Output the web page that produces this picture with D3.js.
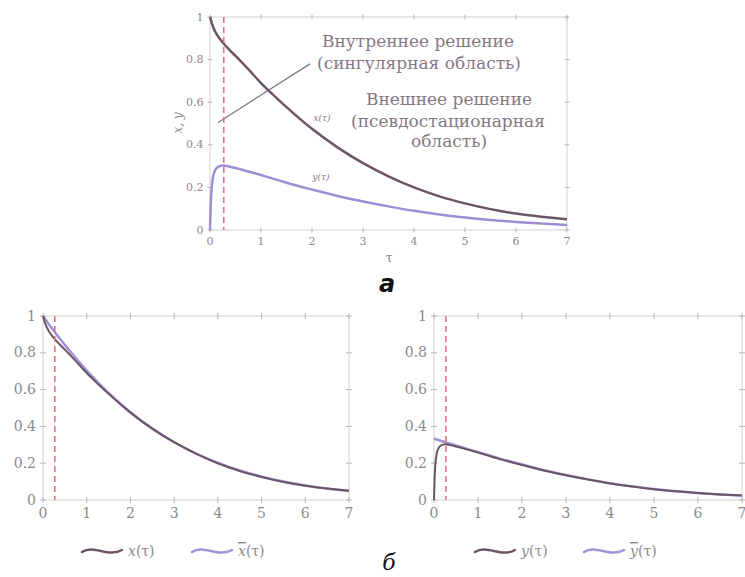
<!DOCTYPE html>
<html><head><meta charset="utf-8">
<script src="https://cdn.jsdelivr.net/npm/d3@7"></script>
<style>body{margin:0;background:#fff}svg{display:block}
svg text{font-family:"DejaVu Serif","Noto Serif",serif}
svg text.lab{font-family:"DejaVu Sans",sans-serif}
</style>
</head><body>
<svg id="c" width="745" height="577"></svg>
<script>
const tau   = [0,0.01,0.02,0.04,0.06,0.1,0.15,0.2,0.25,0.3,0.4,0.5,0.75,1,1.25,1.5,2,2.5,3,3.5,4,4.5,5,5.5,6,6.5,7];
const xVals = [1,0.993,0.984,0.968,0.954,0.932,0.912,0.895,0.88,0.866,0.841,0.817,0.755,0.69,0.632,0.577,0.475,0.388,0.314,0.252,0.2,0.158,0.125,0.098,0.077,0.062,0.05];
const yVals = [0,0.09,0.15,0.215,0.25,0.28,0.295,0.301,0.303,0.302,0.297,0.291,0.275,0.258,0.24,0.222,0.19,0.16,0.134,0.111,0.09,0.073,0.059,0.047,0.038,0.03,0.024];
const xbarVals = [1,0.997,0.993,0.987,0.98,0.967,0.95,0.934,0.918,0.902,0.872,0.843,0.771,0.703,0.641,0.582,0.477,0.388,0.314,0.252,0.201,0.16,0.127,0.1,0.079,0.062,0.049];
const ybarVals = [0.333,0.333,0.332,0.33,0.329,0.326,0.322,0.318,0.315,0.311,0.304,0.297,0.278,0.26,0.243,0.225,0.193,0.162,0.136,0.112,0.091,0.074,0.06,0.048,0.038,0.03,0.024];
const xTicks = [0,1,2,3,4,5,6,7];
const yTicks = [0,0.2,0.4,0.6,0.8,1];
const yTickLabels = ["0","0.2","0.4","0.6","0.8","1"];
const tauSplit = 0.27;
const pointerLine = [[0.16,0.505],[1.96,0.78]];

const C_X = "#6d5566", C_Y = "#9d8fd6", C_XB = "#a093d8", C_RED = "#e8707e";
const C_FRAME = "#d2d2d2", C_TXT = "#8a8a8a", C_ANN = "#867883";
const svg = d3.select("#c");

function panel(box, fs, tickLen){
  const x = d3.scaleLinear().domain([0,7]).range([box.l, box.r]);
  const y = d3.scaleLinear().domain([0,1]).range([box.b, box.t]);
  const g = svg.append("g");
  g.append("rect").attr("x",box.l).attr("y",box.t).attr("width",box.r-box.l).attr("height",box.b-box.t)
    .attr("fill","none").attr("stroke",C_FRAME).attr("stroke-width",1);
  xTicks.forEach(v=>{
    [box.b, box.t].forEach(yy=>{
      g.append("line").attr("x1",x(v)).attr("x2",x(v)).attr("y1",yy-tickLen).attr("y2",yy+tickLen).attr("stroke","#b5b5b5");
    });
  });
  yTicks.forEach(v=>{
    [box.l, box.r].forEach(xx=>{
      g.append("line").attr("y1",y(v)).attr("y2",y(v)).attr("x1",xx-tickLen).attr("x2",xx+tickLen).attr("stroke","#b5b5b5");
    });
  });
  g.selectAll(".xl").data(xTicks).enter().append("text")
    .attr("x",d=>x(d)).attr("y",box.b+fs+4).attr("text-anchor","middle")
    .attr("font-size",fs).attr("fill",C_TXT).text(d=>d);
  g.selectAll(".yl").data(yTicks).enter().append("text")
    .attr("x",box.l-tickLen-4).attr("y",d=>y(d)+fs*0.33).attr("text-anchor","end")
    .attr("font-size",fs).attr("fill",C_TXT).text((d,i)=>yTickLabels[i]);
  return {x,y,g};
}
function curve(p, vals, color, w){
  const line = d3.line().x(d=>p.x(d[0])).y(d=>p.y(d[1])).curve(d3.curveMonotoneX);
  p.g.append("path").datum(tau.map((t,i)=>[t,vals[i]])).attr("d",line)
    .attr("fill","none").attr("stroke",color).attr("stroke-width",w).attr("stroke-linejoin","round");
}
function split(p){
  p.g.append("line").attr("x1",p.x(tauSplit)).attr("x2",p.x(tauSplit)).attr("y1",p.y(1)).attr("y2",p.y(0))
    .attr("stroke",C_RED).attr("stroke-width",1.6).attr("stroke-dasharray","6,4");
}

// ---- panel a ----
const A = panel({l:210,r:567,t:17,b:230}, 11, 2.5);
A.g.append("line").attr("x1",A.x(pointerLine[0][0])).attr("y1",A.y(pointerLine[0][1]))
  .attr("x2",A.x(pointerLine[1][0])).attr("y2",A.y(pointerLine[1][1])).attr("stroke",C_ANN).attr("stroke-width",1.3);
curve(A, xVals, C_X, 2.5);
curve(A, yVals, C_Y, 2.5);
split(A);
const annot = [["Внутреннее решение",418,47],["(сингулярная область)",419,69],["Внешнее решение",449,105],["(псевдостационарная",448,127],["область)",449,147]];
annot.forEach(a=>svg.append("text").attr("x",a[1]).attr("y",a[2]).attr("text-anchor","middle")
  .attr("font-size",17).attr("fill",C_ANN).text(a[0]));
svg.append("text").attr("x",322).attr("y",121).attr("text-anchor","middle")
  .attr("font-size",9).attr("font-style","italic").attr("fill",C_ANN).text("x(τ)");
svg.append("text").attr("x",321).attr("y",180).attr("text-anchor","middle")
  .attr("font-size",9).attr("font-style","italic").attr("fill",C_ANN).text("y(τ)");
svg.append("text").attr("transform","translate(182,123) rotate(-90)").attr("text-anchor","middle")
  .attr("font-size",12).attr("font-style","italic").attr("fill",C_TXT).text("x, y");
svg.append("text").attr("x",389).attr("y",262).attr("text-anchor","middle")
  .attr("font-size",12).attr("fill",C_TXT).text("τ");
svg.append("text").attr("class","lab").attr("x",387).attr("y",292).attr("text-anchor","middle")
  .attr("font-size",24).attr("font-weight","bold").attr("font-style","italic").attr("fill","#111").text("а");

// ---- panel b left ----
const B = panel({l:43,r:349,t:316,b:500}, 14, 3);
curve(B, xbarVals, C_XB, 2.5);
curve(B, xVals, C_X, 2);
split(B);
// ---- panel b right ----
const R = panel({l:434,r:742,t:316,b:500}, 14, 3);
curve(R, ybarVals, C_XB, 2.5);
curve(R, yVals, C_X, 2);
split(R);

svg.append("text").attr("x",389).attr("y",570).attr("text-anchor","middle")
  .attr("font-size",22).attr("font-style","italic").attr("fill","#111").text("б");

function legend(x0, y0, color, label, bar){
  svg.append("path").attr("d",`M${x0},${y0+1} C${x0+12},${y0-7} ${x0+26},${y0+7} ${x0+40},${y0-1}`)
    .attr("fill","none").attr("stroke",color).attr("stroke-width",2.5).attr("stroke-linecap","round");
  const t = svg.append("text").attr("x",x0+46).attr("y",y0+5).attr("font-size",14).attr("fill",C_TXT);
  t.append("tspan").attr("font-style","italic").attr("text-decoration",bar?"overline":null).text(label);
  t.append("tspan").text("(τ)");
}
legend(82,551,C_X,"x",false);
legend(192,551,C_XB,"x",true);
legend(475,551,C_X,"y",false);
legend(584,551,C_XB,"y",true);
</script>
</body></html>
